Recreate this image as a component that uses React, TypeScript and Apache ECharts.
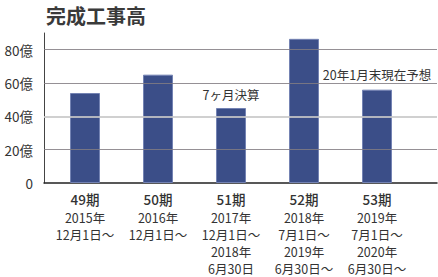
import React, { useEffect, useRef } from "react";
import * as echarts from "echarts";

const periods = ["49期", "50期", "51期", "52期", "53期"];
const periodDates = [
  ["2015年", "12月1日〜"],
  ["2016年", "12月1日〜"],
  ["2017年", "12月1日〜", "2018年", "6月30日"],
  ["2018年", "7月1日〜", "2019年", "6月30日〜"],
  ["2019年", "7月1日〜", "2020年", "6月30日〜"],
];
const values = [54, 65, 45, 86.5, 56];
const notes = ["", "", "7ヶ月決算", "", "20年1月末現在予想"];
const gridValues = [20, 40, 60, 80];
const yMax = 90;

const FONT = '"Noto Sans CJK JP", "Noto Sans", sans-serif';

export default function App() {
  const ref = useRef<HTMLDivElement>(null);
  useEffect(() => {
    if (!ref.current) return;
    const chart = echarts.init(ref.current, null, { renderer: "svg" });
    const top = 33;
    const bottom = 94;
    chart.setOption({
      animation: false,
      textStyle: { fontFamily: FONT },
      title: {
        text: "完成工事高",
        left: 41,
        top: 0,
        textStyle: { fontSize: 20, fontWeight: "bold", color: "#3a3a3a", fontFamily: FONT },
      },
      grid: [
        { left: 48.5, right: 24.5, top, bottom },
        { left: 44, right: 1, top, bottom },
      ],
      xAxis: [
        {
          type: "category",
          gridIndex: 0,
          data: periods,
          axisLine: { show: false },
          axisTick: { show: false },
          axisLabel: {
            interval: 0,
            margin: 6,
            formatter: (v: string, i: number) =>
              [`{a|${v}}`, ...periodDates[i].map((d) => `{b|${d}}`)].join("\n"),
            rich: {
              a: { fontSize: 13.5, lineHeight: 20, color: "#333", fontWeight: 500, fontFamily: FONT },
              b: { fontSize: 12.5, lineHeight: 17, color: "#333", fontFamily: FONT },
            },
          },
        },
        {
          type: "value",
          gridIndex: 1,
          min: 0,
          max: 1,
          axisLine: { show: true, onZero: false, lineStyle: { color: "#222", width: 1.5 } },
          axisTick: { show: false },
          axisLabel: { show: false },
          splitLine: { show: false },
        },
      ],
      yAxis: [
        {
          type: "value",
          gridIndex: 0,
          min: 0,
          max: yMax,
          show: false,
        },
        {
          type: "value",
          gridIndex: 1,
          min: 0,
          max: yMax,
          interval: 20,
          axisLine: { show: true, lineStyle: { color: "#444", width: 1 } },
          axisTick: { show: false },
          splitLine: { show: false },
          axisLabel: {
            margin: 11,
            fontSize: 13.5,
            color: "#333",
            fontFamily: FONT,
            formatter: (v: number) => (v === yMax ? "" : v === 0 ? "0" : `${v}億`),
          },
        },
      ],
      series: [
        {
          type: "bar",
          xAxisIndex: 0,
          yAxisIndex: 0,
          barWidth: 30,
          z: 2,
          data: values.map((v, i) => ({
            value: v,
            label: notes[i]
              ? {
                  show: true,
                  position: "top",
                  distance: i === 4 ? 9 : 7,
                  formatter: notes[i],
                  fontSize: 12.5,
                  color: "#333",
                  fontFamily: FONT,
                }
              : { show: false },
          })),
          itemStyle: { color: "#3b4e88", borderColor: "#7483b3", borderWidth: 1 },
        },
        {
          type: "line",
          xAxisIndex: 1,
          yAxisIndex: 1,
          data: [],
          z: 5,
          silent: true,
          markLine: {
            silent: true,
            symbol: "none",
            label: { show: false },
            z: 5,
            data: gridValues.map((g) => ({
              yAxis: g,
              lineStyle:
                g === 40
                  ? { color: "rgba(200,200,200,0.85)", width: 2, type: "solid" }
                  : { color: "rgba(130,125,130,0.85)", width: 1, type: "solid" },
            })),
          },
        },
      ],
    });
    return () => chart.dispose();
  }, []);
  return (
    <div
      ref={ref}
      style={{ position: "fixed", left: 0, top: 0, width: 438, height: 277, background: "#fff" }}
    />
  );
}
